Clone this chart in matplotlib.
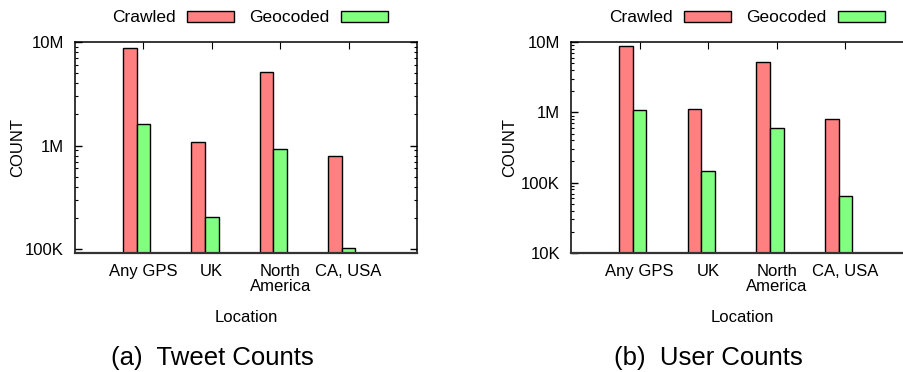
import numpy as np
import matplotlib
matplotlib.use("Agg")
from matplotlib import pyplot as plt
from matplotlib.patches import Patch
from matplotlib.ticker import FixedLocator, LogLocator, NullFormatter

plt.rcParams['font.family'] = ['Liberation Sans', 'DejaVu Sans']

locations = ["Any GPS", "UK", "North\nAmerica", "CA, USA"]
series_names = ["Crawled", "Geocoded"]

tweet_crawled = [8.7e6, 1.09e6, 5.1e6, 7.96e5]
tweet_geocoded = [1.6e6, 2.04e5, 9.18e5, 1.017e5]

user_crawled = [8.7e6, 1.10e6, 5.15e6, 8.0e5]
user_geocoded = [1.07e6, 1.47e5, 6.08e5, 6.47e4]

tweet_ticks = [1e5, 1e6, 1e7]
tweet_ticklabels = ["100K", "1M", "10M"]
user_ticks = [1e4, 1e5, 1e6, 1e7]
user_ticklabels = ["10K", "100K", "1M", "10M"]

RED = "#ff8080"
GREEN = "#80ff80"
W = 0.2
FS = 12


def draw_panel(ax, crawled, geocoded, yticks, yticklabels, ylim):
    x = np.arange(len(locations))
    ax.bar(x - W, crawled, W, color=RED, edgecolor="black", linewidth=1)
    ax.bar(x, geocoded, W, color=GREEN, edgecolor="black", linewidth=1)
    ax.set_yscale("log")
    ax.set_ylim(*ylim)
    ax.set_xlim(-1, 4)

    ax.set_xticks(x)
    ax.set_xticklabels(locations, fontsize=FS, linespacing=1.0)
    ax.tick_params(axis="x", which="both", bottom=False, top=True,
                   direction="in", length=5, pad=8, labelbottom=True)

    ax.yaxis.set_major_locator(FixedLocator(yticks))
    ax.set_yticklabels(yticklabels, fontsize=FS)
    ax.yaxis.set_minor_locator(LogLocator(base=10, subs=np.arange(2, 10)))
    ax.yaxis.set_minor_formatter(NullFormatter())
    ax.tick_params(axis="y", which="major", left=True, right=True,
                   direction="in", length=5, pad=8, width=1)
    ax.tick_params(axis="y", which="minor", left=True, right=True,
                   direction="in", length=2.5, width=0.8)

    for sp in ax.spines.values():
        sp.set_linewidth(1.1)
    ax.spines["bottom"].set_linewidth(1.6)
    ax.spines["bottom"].set_color("#333333")

    ax.set_ylabel("COUNT", fontsize=FS)
    ax.set_xlabel("Location", fontsize=FS)

    handles = [Patch(facecolor=RED, edgecolor="black", linewidth=1),
               Patch(facecolor=GREEN, edgecolor="black", linewidth=1)]
    return handles


fig = plt.figure(figsize=(9.04, 3.72), dpi=100)
W_PX, H_PX = 904, 372

ax1 = fig.add_axes([75 / W_PX, 119 / H_PX, 342 / W_PX, 211 / H_PX])
h = draw_panel(ax1, tweet_crawled, tweet_geocoded, tweet_ticks, tweet_ticklabels,
               (9.15e4, 1e7))
ax1.yaxis.set_label_coords(-0.146, 0.5)
ax1.xaxis.set_label_coords(0.5, -0.27)

ax2 = fig.add_axes([571 / W_PX, 119 / H_PX, 343 / W_PX, 211 / H_PX])
draw_panel(ax2, user_crawled, user_geocoded, user_ticks, user_ticklabels,
           (1e4, 1e7))
ax2.yaxis.set_label_coords(-0.157, 0.5)
ax2.xaxis.set_label_coords(0.5, -0.27)

for cx in (250, 747):
    fig.legend(h, series_names, loc="center", bbox_to_anchor=(cx / W_PX, 1 - 18 / H_PX),
               ncol=2, frameon=False, fontsize=12.5, markerfirst=False,
               handlelength=2.7, handleheight=0.55, handletextpad=0.65,
               columnspacing=0.9, borderaxespad=0, borderpad=0)

fig.text(212 / W_PX, 1 - 358 / H_PX, "(a)  Tweet Counts", fontsize=18.5,
         ha="center", va="center")
fig.text(708 / W_PX, 1 - 358 / H_PX, "(b)  User Counts", fontsize=18.5,
         ha="center", va="center")

fig.savefig("out.png", dpi=100)
